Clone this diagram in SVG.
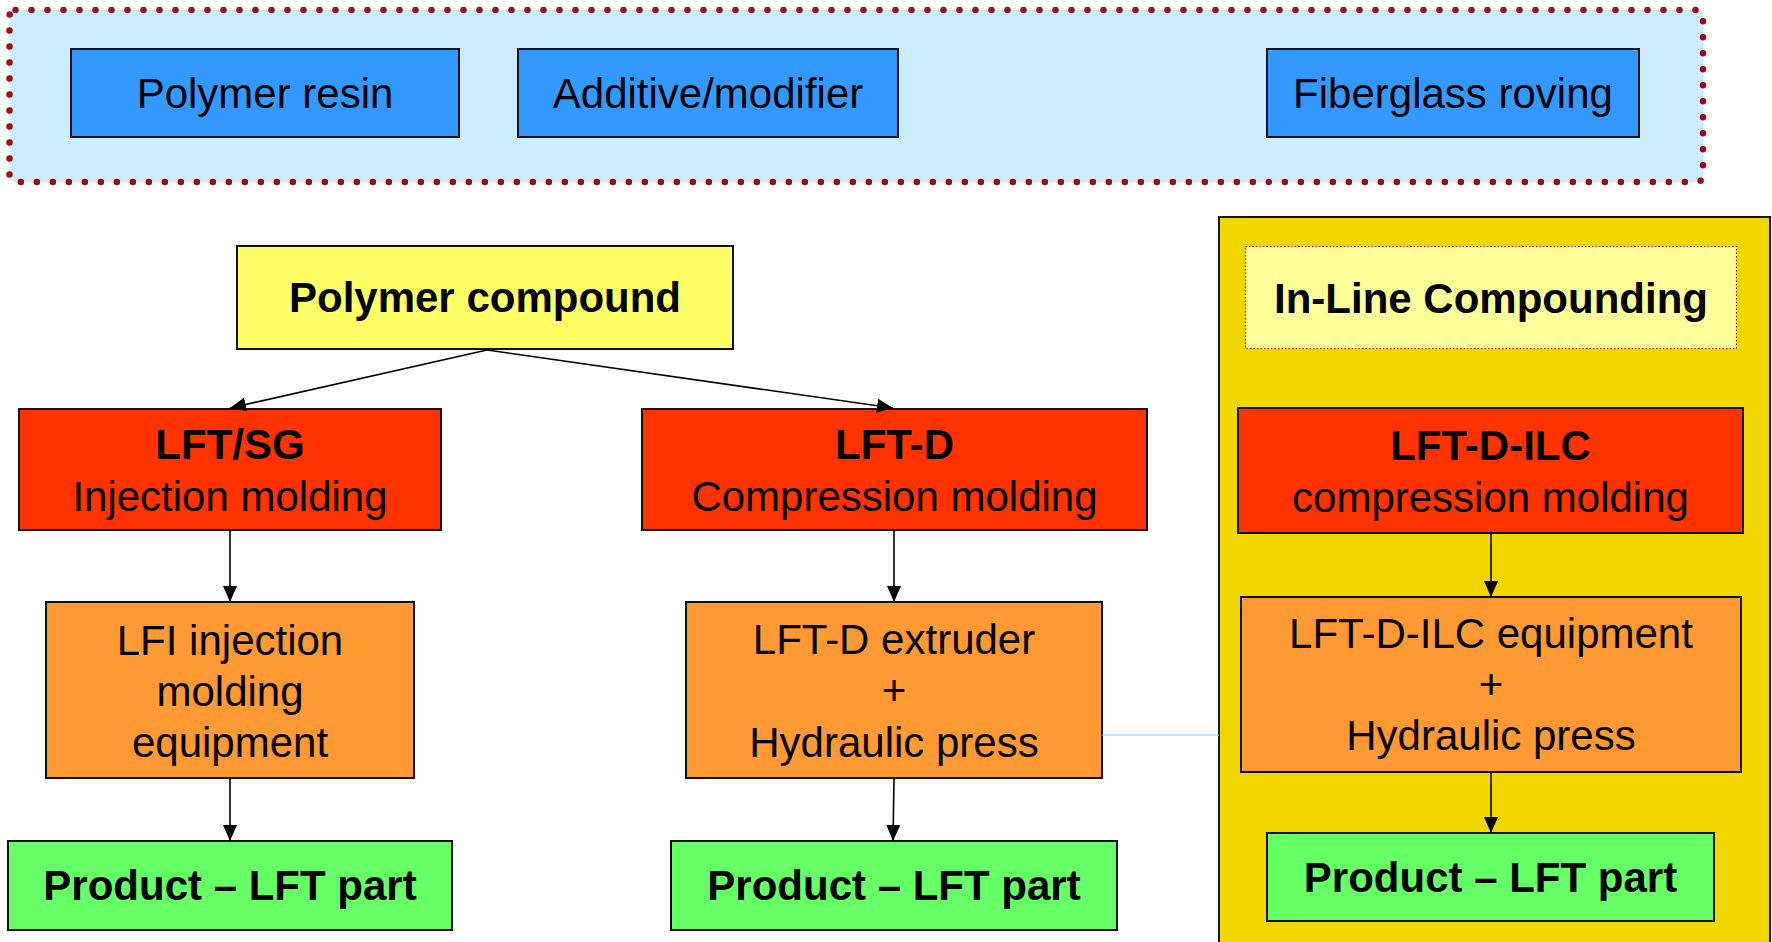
<svg xmlns="http://www.w3.org/2000/svg" width="1772" height="942" viewBox="0 0 1772 942">
  <defs>
    <marker id="arrow" markerUnits="userSpaceOnUse" markerWidth="16" markerHeight="14" refX="16" refY="7" orient="auto">
      <path d="M0,0 L16,7 L0,14 z" fill="#000"/>
    </marker>
    <style>
      .box { stroke: #111; stroke-width: 2; }
      .raw { fill: #3399FF; }
      .compound { fill: #FFFF66; }
      .process { fill: #FF3300; }
      .equip { fill: #FF9933; }
      .product { fill: #66FF66; }
      text { font-family: "Liberation Sans", Arial, Helvetica, sans-serif; font-size: 42px; fill: #000; text-anchor: middle; }
      .b { font-weight: bold; }
      .conn { stroke: #000; stroke-width: 1.6; fill: none; marker-end: url(#arrow); }
    </style>
  </defs>

  <rect width="1772" height="942" fill="#FFFFFF"/>

  <!-- raw materials band -->
  <g id="materials">
    <rect x="9.5" y="10" width="1693.5" height="172" rx="6" fill="#CCECFF" stroke="#9A0E1C" stroke-width="6.5" stroke-linecap="round" stroke-dasharray="0 16"/>
  </g>
  <g id="polymer-resin">
    <rect class="box raw" x="71" y="49" width="388" height="88"/>
    <text x="265" y="108">Polymer resin</text>
  </g>
  <g id="additive">
    <rect class="box raw" x="518" y="49" width="380" height="88"/>
    <text x="708" y="108">Additive/modifier</text>
  </g>
  <g id="fiberglass">
    <rect class="box raw" x="1267" y="49" width="372" height="88"/>
    <text x="1453" y="108">Fiberglass roving</text>
  </g>

  <!-- in-line compounding panel -->
  <g id="ilc-panel">
    <rect x="1219" y="217" width="551" height="740" fill="#F2D600" stroke="#111" stroke-width="2"/>
  </g>
  <g id="ilc-title">
    <rect x="1245.5" y="246.5" width="491" height="102" fill="#FFFF99" stroke="#A0101A" stroke-width="1.2" stroke-dasharray="1.5 2"/>
    <text class="b" x="1491" y="313">In-Line Compounding</text>
  </g>

  <g id="polymer-compound">
    <rect class="box compound" x="237" y="246" width="496" height="103"/>
    <text class="b" x="485" y="312">Polymer compound</text>
  </g>

  <!-- molding processes -->
  <g id="lft-sg">
    <rect class="box process" x="19" y="409" width="422" height="121"/>
    <text class="b" x="230" y="459">LFT/SG</text>
    <text x="230" y="511">Injection molding</text>
  </g>
  <g id="lft-d">
    <rect class="box process" x="642" y="409" width="505" height="121"/>
    <text class="b" x="894.5" y="459">LFT-D</text>
    <text x="894.5" y="511">Compression molding</text>
  </g>
  <g id="lft-d-ilc">
    <rect class="box process" x="1238" y="408" width="505" height="125"/>
    <text class="b" x="1490.5" y="460">LFT-D-ILC</text>
    <text x="1490.5" y="512">compression molding</text>
  </g>

  <!-- equipment -->
  <g id="lfi-equipment">
    <rect class="box equip" x="46" y="602" width="368" height="176"/>
    <text x="230" y="655">LFI injection</text>
    <text x="230" y="706">molding</text>
    <text x="230" y="757">equipment</text>
  </g>
  <g id="lft-d-equipment">
    <rect class="box equip" x="686" y="602" width="416" height="176"/>
    <text x="894" y="654">LFT-D extruder</text>
    <text x="894" y="705">+</text>
    <text x="894" y="757">Hydraulic press</text>
  </g>
  <g id="lft-d-ilc-equipment">
    <rect class="box equip" x="1241" y="597" width="500" height="175"/>
    <text x="1491" y="648">LFT-D-ILC equipment</text>
    <text x="1491" y="699">+</text>
    <text x="1491" y="750">Hydraulic press</text>
  </g>

  <!-- products -->
  <g id="product-1">
    <rect class="box product" x="8" y="841" width="444" height="89"/>
    <text class="b" x="230" y="900">Product – LFT part</text>
  </g>
  <g id="product-2">
    <rect class="box product" x="671" y="841" width="446" height="89"/>
    <text class="b" x="894" y="900">Product – LFT part</text>
  </g>
  <g id="product-3">
    <rect class="box product" x="1267" y="833" width="447" height="88"/>
    <text class="b" x="1490.5" y="892">Product – LFT part</text>
  </g>

  <!-- connectors -->
  <g id="connectors">
    <line class="conn" x1="487" y1="350" x2="230" y2="408"/>
    <line class="conn" x1="487" y1="350" x2="893" y2="408"/>
    <line class="conn" x1="230" y1="530" x2="230" y2="602"/>
    <line class="conn" x1="230" y1="778" x2="230" y2="841"/>
    <line class="conn" x1="894" y1="530" x2="894" y2="602"/>
    <line class="conn" x1="894" y1="778" x2="893" y2="841"/>
    <line class="conn" x1="1491" y1="533" x2="1491" y2="597"/>
    <line class="conn" x1="1491" y1="772" x2="1491" y2="833"/>
    <line x1="1102" y1="735" x2="1219" y2="735" stroke="#99CCEE" stroke-width="1.2"/>
  </g>
</svg>
